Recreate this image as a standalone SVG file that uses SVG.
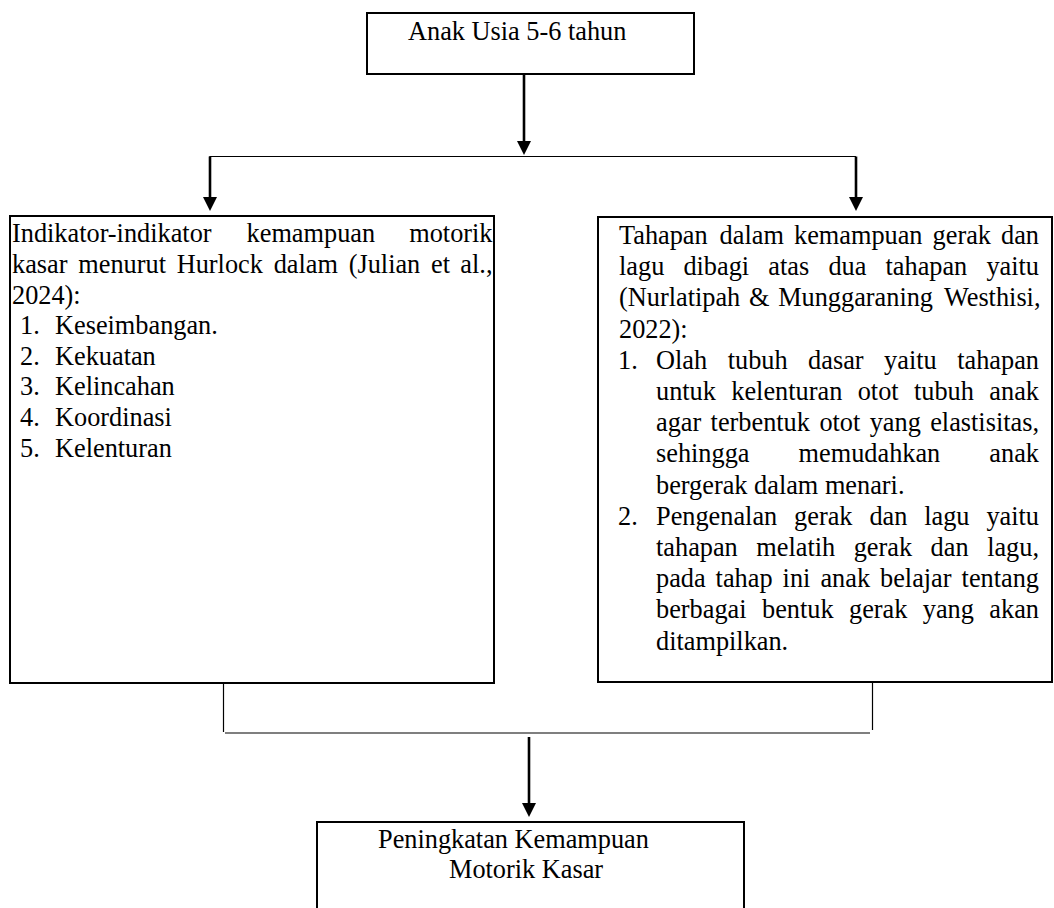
<svg xmlns="http://www.w3.org/2000/svg" width="1054" height="908" viewBox="0 0 1054 908">
<style>
.box{fill:#fff;stroke:#000;stroke-width:2}
.t{font-family:"Liberation Serif","Times New Roman",serif;font-size:26.3px;fill:#000}
.thin{fill:none;stroke:#000;stroke-width:1.2}
.arr{fill:none;stroke:#000;stroke-width:2.6}
.e{text-anchor:end}
</style>
<defs>
<marker id="ah" markerUnits="userSpaceOnUse" markerWidth="14" markerHeight="14" refX="0" refY="7" orient="auto" viewBox="0 0 14 14">
<path d="M0,0 L14,7 L0,14 z" fill="#000"/>
</marker>
</defs>
<rect width="1054" height="908" fill="#fff"/>

<g id="connectors">
<line class="arr" x1="524" y1="75" x2="524" y2="141" marker-end="url(#ah)"/>
<polyline class="thin" points="210,157 210,156.5 856,156.5"/>
<line class="arr" x1="210" y1="156.5" x2="210" y2="197" marker-end="url(#ah)"/>
<line class="arr" x1="856" y1="156.5" x2="856" y2="197" marker-end="url(#ah)"/>
<line class="thin" x1="223.5" y1="683" x2="223.5" y2="732"/>
<line class="thin" x1="225" y1="733" x2="870" y2="733"/>
<line class="thin" x1="872.5" y1="680" x2="872.5" y2="730"/>
<line class="arr" x1="529" y1="737" x2="529" y2="803" marker-end="url(#ah)"/>
</g>

<g id="node-top">
<rect class="box" x="367" y="13" width="327" height="61"/>
<text class="t" x="408" y="40">Anak Usia 5-6 tahun</text>
</g>

<g id="node-left">
<rect class="box" x="10" y="216" width="484" height="467"/>
<text class="t" y="242.3"><tspan x="12">Indikator-indikator</tspan><tspan x="246.6">kemampuan</tspan><tspan x="492.5" class="e">motorik</tspan></text>
<text class="t" y="272.9"><tspan x="12">kasar</tspan><tspan x="78.3">menurut</tspan><tspan x="176.7">Hurlock</tspan><tspan x="273.7">dalam</tspan><tspan x="348.7">(Julian</tspan><tspan x="431.1">et</tspan><tspan x="492.5" class="e">al.,</tspan></text>
<text class="t" x="12" y="303.5">2024):</text>
<text class="t" y="334.1"><tspan x="20">1.</tspan><tspan x="55">Keseimbangan.</tspan></text>
<text class="t" y="364.7"><tspan x="20">2.</tspan><tspan x="55">Kekuatan</tspan></text>
<text class="t" y="395.3"><tspan x="20">3.</tspan><tspan x="55">Kelincahan</tspan></text>
<text class="t" y="425.9"><tspan x="20">4.</tspan><tspan x="55">Koordinasi</tspan></text>
<text class="t" y="456.5"><tspan x="20">5.</tspan><tspan x="55">Kelenturan</tspan></text>
</g>

<g id="node-right">
<rect class="box" x="598" y="217" width="454" height="465"/>
<text class="t" y="244"><tspan x="619">Tahapan</tspan><tspan x="719.6">dalam</tspan><tspan x="794">kemampuan</tspan><tspan x="932.6">gerak</tspan><tspan x="1039" class="e">dan</tspan></text>
<text class="t" y="275.2"><tspan x="619">lagu</tspan><tspan x="683.4">dibagi</tspan><tspan x="768.3">atas</tspan><tspan x="828.4">dua</tspan><tspan x="885.5">tahapan</tspan><tspan x="1039" class="e">yaitu</tspan></text>
<text class="t" y="306.4"><tspan x="619">(Nurlatipah</tspan><tspan x="749">&amp;</tspan><tspan x="778.2">Munggaraning</tspan><tspan x="1040.5" class="e">Westhisi,</tspan></text>
<text class="t" x="619" y="337.6">2022):</text>
<text class="t" y="368.8"><tspan x="618">1.</tspan><tspan x="656">Olah</tspan><tspan x="727.7">tubuh</tspan><tspan x="808.1">dasar</tspan><tspan x="884.1">yaitu</tspan><tspan x="1039" class="e">tahapan</tspan></text>
<text class="t" y="400"><tspan x="656">untuk</tspan><tspan x="731.3">kelenturan</tspan><tspan x="857.7">otot</tspan><tspan x="914">tubuh</tspan><tspan x="1039" class="e">anak</tspan></text>
<text class="t" y="431.2"><tspan x="656">agar</tspan><tspan x="710.6">terbentuk</tspan><tspan x="819.4">otot</tspan><tspan x="869.7">yang</tspan><tspan x="1039" class="e">elastisitas,</tspan></text>
<text class="t" y="462.4"><tspan x="656">sehingga</tspan><tspan x="798.6">memudahkan</tspan><tspan x="1039" class="e">anak</tspan></text>
<text class="t" x="656" y="493.6">bergerak dalam menari.</text>
<text class="t" y="524.8"><tspan x="618">2.</tspan><tspan x="656">Pengenalan</tspan><tspan x="794.1">gerak</tspan><tspan x="869.4">dan</tspan><tspan x="924.2">lagu</tspan><tspan x="1039" class="e">yaitu</tspan></text>
<text class="t" y="556"><tspan x="656">tahapan</tspan><tspan x="756.3">melatih</tspan><tspan x="853.7">gerak</tspan><tspan x="930.6">dan</tspan><tspan x="1039" class="e">lagu,</tspan></text>
<text class="t" y="587.2"><tspan x="656">pada</tspan><tspan x="715.6">tahap</tspan><tspan x="782.6">ini</tspan><tspan x="820.4">anak</tspan><tspan x="880">belajar</tspan><tspan x="1039" class="e">tentang</tspan></text>
<text class="t" y="618.4"><tspan x="656">berbagai</tspan><tspan x="762">bentuk</tspan><tspan x="849">gerak</tspan><tspan x="922.8">yang</tspan><tspan x="1039" class="e">akan</tspan></text>
<text class="t" x="656" y="649.6">ditampilkan.</text>
</g>

<g id="node-bottom">
<rect class="box" x="317" y="822" width="427" height="100"/>
<text class="t" x="378" y="848">Peningkatan Kemampuan</text>
<text class="t" x="449" y="878">Motorik Kasar</text>
</g>
</svg>
